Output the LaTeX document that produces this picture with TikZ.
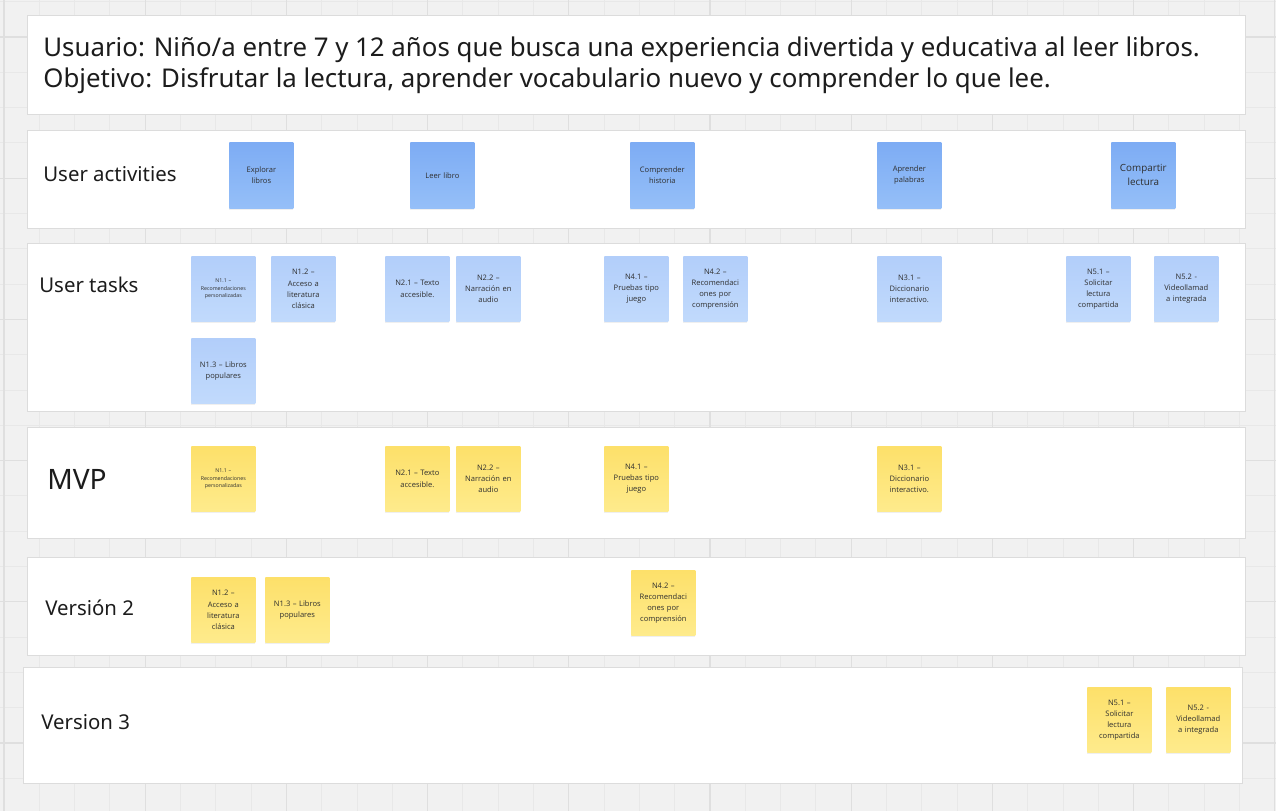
\documentclass[tikz,border=0pt]{standalone}
\usepackage{fontspec}
\newfontfamily\boardfont{Noto Sans}
\newfontfamily\stickyfont{Open Sans}
\usetikzlibrary{shadows}

\definecolor{gridbg}{HTML}{F1F1F1}
\definecolor{gridminor}{HTML}{E8E8E8}
\definecolor{gridmajor}{HTML}{DFDFDF}
\definecolor{panelline}{HTML}{DCDCDC}
\definecolor{acttop}{HTML}{7DACF4}
\definecolor{actbot}{HTML}{95BFF8}
\definecolor{tasktop}{HTML}{B2CEFA}
\definecolor{taskbot}{HTML}{C1DAFC}
\definecolor{yeltop}{HTML}{FDE06A}
\definecolor{yelbot}{HTML}{FEEB8C}
\definecolor{inktext}{HTML}{1C1C1C}
\definecolor{stickytext}{HTML}{2E2E2E}

\tikzset{
  panel/.style={draw=panelline, fill=white, anchor=north west, inner sep=0, line width=0.6pt},
  lanelabel/.style={anchor=west, inner sep=0, text=inktext, font=\boardfont\fontsize{11.6}{14}\selectfont},
  headline/.style={anchor=base west, inner sep=0, text=inktext, font=\boardfont\fontsize{14.7}{18}\selectfont},
  sticky/.style={anchor=north west, minimum width=1.28cm, minimum height=1.3cm, text width=1.2cm,
    align=center, inner sep=0, text=stickytext, font=\stickyfont\fontsize{4.3}{6.3}\selectfont,
    drop shadow={opacity=0.12, shadow xshift=0pt, shadow yshift=-1.2pt}},
  activity/.style={sticky, top color=acttop, bottom color=actbot, minimum height=1.32cm},
  task/.style={sticky, top color=tasktop, bottom color=taskbot},
  release/.style={sticky, top color=yeltop, bottom color=yelbot},
  tinytext/.style={font=\stickyfont\fontsize{3}{4.3}\selectfont}
}

\begin{document}
\begin{tikzpicture}[x=0.02cm, y=-0.02cm]
  \useasboundingbox (0,0) rectangle (1276,811);

  % Board grid
  \fill[gridbg] (0,0) rectangle (1276,811);
  \foreach \i in {0,...,36}{
    \draw[gridminor, line width=0.5pt] ({4+35.3*\i},0) -- ++(0,811);
  };
  \foreach \j in {-1,...,22}{
    \draw[gridminor, line width=0.5pt] (0,{37+35.3*\j}) -- ++(1276,0);
  };
  \foreach \i in {0,...,9}{
    \draw[gridmajor, line width=0.6pt] ({4+141.2*\i},0) -- ++(0,811);
  };
  \foreach \j in {-1,...,6}{
    \draw[gridmajor, line width=0.6pt] (0,{37+141.2*\j}) -- ++(1276,0);
  };

  % Panels
  \draw (27,15)  node(goal)  [panel, minimum width=24.36cm, minimum height=1.98cm] {};
  \draw (27,130) node(lane1) [panel, minimum width=24.36cm, minimum height=1.96cm] {};
  \draw (27,243) node(lane2) [panel, minimum width=24.36cm, minimum height=3.36cm] {};
  \draw (27,427) node(lane3) [panel, minimum width=24.36cm, minimum height=2.22cm] {};
  \draw (27,557) node(lane4) [panel, minimum width=24.36cm, minimum height=1.96cm] {};
  \draw (23,667) node(lane5) [panel, minimum width=24.38cm, minimum height=2.32cm] {};

  % Headline
  \draw (43,57) node(usuario) [headline]
    {Usuario: Niño/a entre 7 y 12 años que busca una experiencia divertida y educativa al leer libros.};
  \draw (43,88) node(objetivo) [headline]
    {Objetivo: Disfrutar la lectura, aprender vocabulario nuevo y comprender lo que lee.};

  % Lane labels
  \draw (43,174) node(lbl1) [lanelabel] {User activities};
  \draw (39,285) node(lbl2) [lanelabel] {User tasks};
  \draw (47,479) node(lbl3) [lanelabel, font=\boardfont\fontsize{16}{19}\selectfont] {MVP};
  \draw (45,608) node(lbl4) [lanelabel] {Versión 2};
  \draw (41,722) node(lbl5) [lanelabel] {Version 3};

  % User activities
  \foreach \x/\n/\t in {229/ua1/{Explorar\\libros}, 410/ua2/{Leer libro},
      630/ua3/{Comprender\\historia}, 877/ua4/{Aprender\\palabras}}{
    \draw (\x,142) node(\n) [activity] {\t};
  };
  \draw (1111,142) node(ua5) [activity, font=\stickyfont\fontsize{5.6}{8}\selectfont] {Compartir\\lectura};

  % User tasks
  \draw (191,256) node(t11) [task, tinytext] {N1.1 –\\Recomendaciones\\personalizadas};
  \foreach \x/\y/\n/\t in {
      271/256/t12/{N1.2 –\\Acceso a\\literatura\\clásica},
      385/256/t21/{N2.1 – Texto\\accesible.},
      456/256/t22/{N2.2 –\\Narración en\\audio},
      604/256/t41/{N4.1 –\\Pruebas tipo\\juego},
      683/256/t42/{N4.2 –\\Recomendaci\\ones por\\comprensión},
      877/256/t31/{N3.1 –\\Diccionario\\interactivo.},
      1066/256/t51/{N5.1 –\\Solicitar\\lectura\\compartida},
      1154/256/t52/{N5.2 -\\Videollamad\\a integrada},
      191/338/t13/{N1.3 – Libros\\populares}}{
    \draw (\x,\y) node(\n) [task] {\t};
  };

  % MVP
  \draw (191,446) node(m11) [release, tinytext] {N1.1 –\\Recomendaciones\\personalizadas};
  \foreach \x/\n/\t in {
      385/m21/{N2.1 – Texto\\accesible.},
      456/m22/{N2.2 –\\Narración en\\audio},
      604/m41/{N4.1 –\\Pruebas tipo\\juego},
      877/m31/{N3.1 –\\Diccionario\\interactivo.}}{
    \draw (\x,446) node(\n) [release] {\t};
  };

  % Version 2 and 3
  \foreach \x/\y/\n/\t in {
      191/577/v12/{N1.2 –\\Acceso a\\literatura\\clásica},
      265/577/v13/{N1.3 – Libros\\populares},
      631/570/v42/{N4.2 –\\Recomendaci\\ones por\\comprensión},
      1087/687/v51/{N5.1 –\\Solicitar\\lectura\\compartida},
      1166/687/v52/{N5.2 -\\Videollamad\\a integrada}}{
    \draw (\x,\y) node(\n) [release] {\t};
  };

\end{tikzpicture}
\end{document}
